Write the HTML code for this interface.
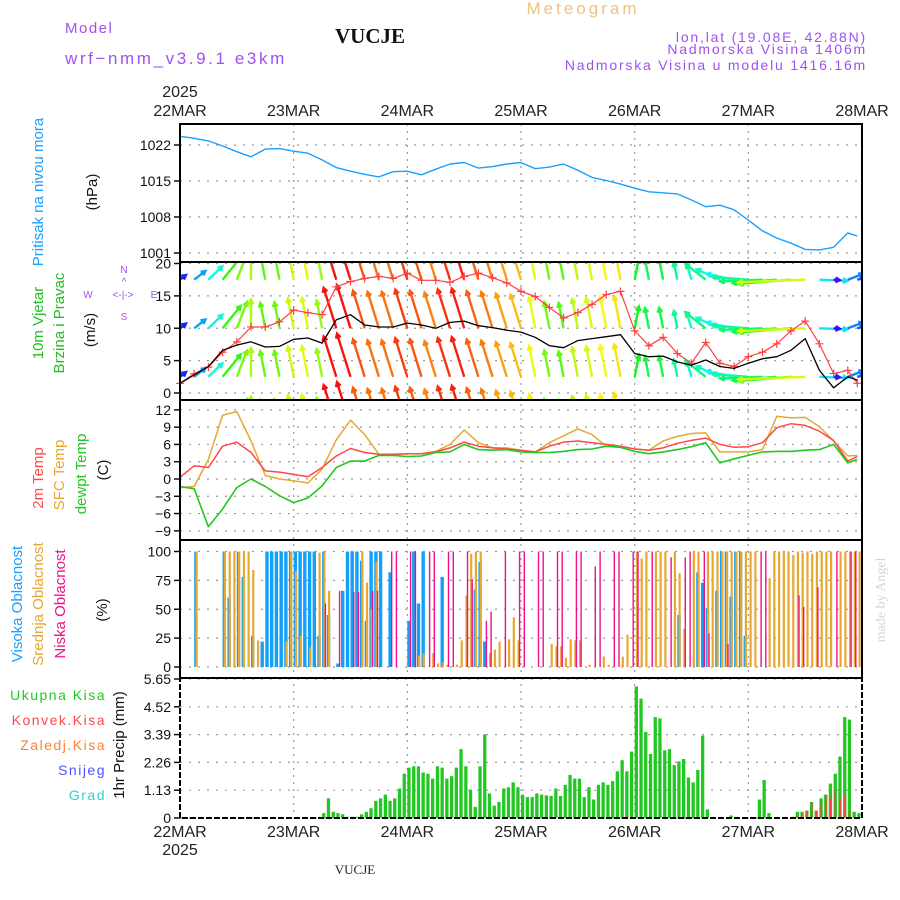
<!DOCTYPE html>
<html><head><meta charset="utf-8"><title>Meteogram VUCJE</title>
<style>
html,body{margin:0;padding:0;background:#fff;}
svg{display:block;font-family:"Liberation Sans",sans-serif;}
</style></head>
<body>
<svg id="chart" width="900" height="900" viewBox="0 0 900 900" xmlns="http://www.w3.org/2000/svg">
<defs>
<clipPath id="clipWind"><rect x="180" y="263" width="682" height="137"/></clipPath>
<clipPath id="clipAll"><rect x="180" y="124" width="682" height="694"/></clipPath>
</defs>
<text x="65" y="33" font-size="15" fill="#a050f0" letter-spacing="1.5">Model</text>
<text x="65" y="64" font-size="17" fill="#a050f0" letter-spacing="2.6">wrf−nmm_v3.9.1 e3km</text>
<text x="370" y="43" font-size="21" font-weight="bold" font-family="Liberation Serif, serif" text-anchor="middle" fill="#111">VUCJE</text>
<text x="583" y="14" font-size="17" fill="#f0c080" text-anchor="middle" letter-spacing="3">Meteogram</text>
<text x="867" y="42" font-size="14" fill="#a050f0" text-anchor="end" letter-spacing="1.8">lon,lat (19.08E, 42.88N)</text>
<text x="867" y="54" font-size="14" fill="#a050f0" text-anchor="end" letter-spacing="1.8">Nadmorska Visina 1406m</text>
<text x="867" y="70" font-size="14" fill="#a050f0" text-anchor="end" letter-spacing="1.8">Nadmorska Visina u modelu 1416.16m</text>
<text x="180" y="97" font-size="16" fill="#222" text-anchor="middle">2025</text>
<text x="180" y="855" font-size="16" fill="#222" text-anchor="middle">2025</text>
<text x="355" y="874" font-size="13" font-family="Liberation Serif, serif" fill="#222" text-anchor="middle">VUCJE</text>
<text transform="translate(885,600) rotate(-90)" font-size="14" font-family="Liberation Serif, serif" fill="#d0d8d0" text-anchor="middle">made by Angel</text>

<text transform="translate(43,192) rotate(-90)" font-size="15" fill="#1aa0ff" text-anchor="middle">Pritisak na nivou mora</text>
<text transform="translate(97,192) rotate(-90)" font-size="15" fill="#111" text-anchor="middle">(hPa)</text>
<text transform="translate(43,323) rotate(-90)" font-size="15" fill="#20c020" text-anchor="middle">10m Vjetar</text>
<text transform="translate(64,323) rotate(-90)" font-size="15" fill="#20c020" text-anchor="middle">Brzina i Pravac</text>
<text transform="translate(95,330) rotate(-90)" font-size="15" fill="#111" text-anchor="middle">(m/s)</text>
<g fill="#a050f0" font-size="10" text-anchor="middle">
<text x="88" y="298">W</text><text x="123" y="298">&lt;-|-&gt;</text><text x="154" y="298">E</text>
<text x="124" y="273">N</text><text x="124" y="285">^</text><text x="124" y="320">S</text>
</g>
<text transform="translate(43,478) rotate(-90)" font-size="15" fill="#ff4848" text-anchor="middle">2m Temp</text>
<text transform="translate(64,475) rotate(-90)" font-size="15" fill="#e8a830" text-anchor="middle">SFC Temp</text>
<text transform="translate(86,474) rotate(-90)" font-size="15" fill="#20c820" text-anchor="middle">dewpt Temp</text>
<text transform="translate(108,470) rotate(-90)" font-size="15" fill="#111" text-anchor="middle">(C)</text>
<text transform="translate(22,604) rotate(-90)" font-size="15" fill="#1aa0ff" text-anchor="middle">Visoka Oblacnost</text>
<text transform="translate(43,604) rotate(-90)" font-size="15" fill="#e8a830" text-anchor="middle">Srednja Oblacnost</text>
<text transform="translate(65,604) rotate(-90)" font-size="15" fill="#f0108a" text-anchor="middle">Niska Oblacnost</text>
<text transform="translate(107,610) rotate(-90)" font-size="15" fill="#111" text-anchor="middle">(%)</text>
<g font-size="14" text-anchor="end" letter-spacing="1.5">
<text x="106" y="700" fill="#20c820">Ukupna Kisa</text>
<text x="106" y="725" fill="#ff4848">Konvek.Kisa</text>
<text x="106" y="750" fill="#ff8030">Zaledj.Kisa</text>
<text x="106" y="775" fill="#5050ff">Snijeg</text>
<text x="106" y="800" fill="#30d0d0">Grad</text>
</g>
<text transform="translate(124,745) rotate(-90)" font-size="15" fill="#111" text-anchor="middle">1hr Precip (mm)</text>

<g id="grid"></g>
<g id="marks"></g>
<g id="frames"></g>
<g id="ticks"></g>
</svg>
<script>
const dayLabels = ["22MAR","23MAR","24MAR","25MAR","26MAR","27MAR","28MAR"];
const hours3 = [0,3,6,9,12,15,18,21,24,27,30,33,36,39,42,45,48,51,54,57,60,63,66,69,72,75,78,81,84,87,90,93,96,99,102,105,108,111,114,117,120,123,126,129,132,135,138,141,143];
const pressure = [1023.7,1023.3,1022.8,1021.8,1020.7,1019.7,1021.2,1021.3,1020.8,1020.4,1019.1,1017.6,1016.9,1016.3,1015.8,1016.8,1016.9,1016.2,1017.3,1018.3,1018.6,1017.5,1017.8,1018.3,1018.6,1017.4,1017.7,1018.3,1017.1,1015.7,1015.1,1014.4,1013.6,1012.9,1012.7,1012.5,1011.3,1010.0,1010.3,1009.4,1007.4,1005.3,1003.9,1002.9,1001.7,1001.6,1002.1,1004.9,1004.3];
const windSpeed = [1.5,2.8,4.1,6.6,7.4,7.9,7.1,7.2,8.3,8.5,7.7,11.3,12.1,10.5,10.2,10.2,10.8,10.5,10.0,10.9,11.1,10.4,10.1,9.7,9.4,8.6,7.3,7.0,8.1,8.4,8.7,9.0,6.1,5.6,5.7,4.8,4.3,5.1,4.1,3.8,4.6,5.3,5.6,6.6,8.4,3.5,0.8,2.5,2.0];
const windGust = [1.5,3.0,4.0,6.3,7.9,10.2,10.2,11.0,12.8,12.4,12.1,16.4,17.2,17.7,18.0,17.7,18.5,17.4,17.4,17.1,18.0,18.5,17.8,17.0,15.7,14.9,13.2,11.6,12.4,13.7,15.2,15.7,9.6,7.3,8.6,6.1,4.6,7.8,4.6,4.1,5.6,6.3,7.6,9.6,11.1,7.6,3.0,3.5,1.5];
const windDir = [30,30,25,20,10,0,-5,-5,-5,-5,-5,-8,-8,-8,-8,-8,-8,-8,-8,-8,-8,-8,-8,-8,-8,-5,-5,-5,-5,-5,-5,-5,5,-5,-5,-5,-8,-30,-45,-65,-80,-95,-100,-100,-95,95,100,50,60];
const temp2m = [0.3,2.3,2.0,5.7,6.4,4.6,1.4,1.2,0.8,0.4,2.0,4.0,5.3,4.6,4.3,4.3,4.4,4.4,4.7,5.4,6.4,5.7,5.4,5.2,5.0,4.7,5.7,6.4,6.6,6.3,6.0,5.7,5.2,5.0,5.4,6.2,6.7,7.1,6.0,5.5,5.6,6.3,8.9,9.6,9.3,8.3,6.7,3.1,3.9];
const tempSfc = [-1.5,-1.3,3.4,11.1,11.7,6.6,0.6,0.0,-0.3,-0.7,1.7,6.8,10.2,7.7,4.3,4.3,4.4,4.4,4.8,6.0,8.5,6.3,5.4,5.4,5.0,4.7,6.3,7.5,8.7,7.7,5.7,5.7,5.2,5.0,6.6,7.4,7.9,8.0,4.7,4.7,4.7,5.1,10.9,10.6,10.7,9.1,6.6,4.0,4.1];
const tempDew = [-1.3,-1.7,-8.3,-5.2,-1.5,0.0,-1.3,-2.9,-4.1,-3.3,-1.2,2.0,3.1,3.1,4.1,4.1,3.9,4.0,4.6,4.7,6.0,5.1,5.0,5.1,4.7,4.6,4.6,4.8,5.1,5.2,5.7,5.5,4.8,4.4,4.7,5.1,5.6,6.3,2.8,3.5,4.1,4.7,4.8,4.8,5.0,5.1,6.0,2.8,3.4];
const cloudHighHours = [3,9,10,12,13,15,17,18,19,20,21,22,23,24,25,26,27,28,29,30,31,33,34,35,36,37,38,39,40,41,42,44,48,49,50,51,55,62,63,64,105,109,110,111,113,114,115,116,117,118,119];
const cloudHigh = [100,100,60,100,78,27,22,100,100,100,100,100,100,100,100,100,100,100,27,100,45,3,66,100,100,100,92,40,100,100,100,82,40,100,55,100,78,67,91,22,45,82,73,51,66,100,100,61,100,100,27];
const cloudMidHours = [3,9,10,11,12,13,14,15,16,22,23,24,25,27,29,30,31,38,39,40,41,50,51,53,54,55,56,58,59,60,61,62,63,65,66,67,69,70,71,78,79,80,81,82,83,84,86,89,90,93,94,96,97,98,100,101,102,104,105,106,108,109,111,112,113,114,115,116,117,118,119,120,121,124,125,126,127,128,129,130,131,132,133,134,135,136,137,139,140,141,142,143];
const cloudMid = [100,100,100,100,100,100,100,84,23,22,100,83,27,17,99,100,66,100,73,50,91,10,12,12,3,4,2,2,23,62,98,100,100,12,15,22,24,43,23,20,18,18,8,24,23,23,2,9,2,9,28,100,94,100,100,100,100,100,81,33,100,100,100,100,100,100,100,100,100,100,100,100,100,77,100,100,100,100,97,100,99,100,98,100,100,100,100,100,100,100,100,100];
const cloudLowHours = [30,33,36,37,40,41,44,45,48,49,52,53,56,57,60,61,64,65,68,71,72,75,76,79,80,83,84,87,88,91,92,95,96,99,103,106,107,110,111,115,122,123,130,131,134,138,141,142];
const cloudLow = [55,66,65,65,66,66,100,100,100,100,100,100,100,100,100,76,40,48,100,100,100,100,100,100,100,100,100,87,100,100,100,100,100,100,95,95,100,100,29,20,100,100,62,52,69,100,100,100];
const precipHours = [30,31,32,33,34,35,36,37,38,39,40,41,42,43,44,45,46,47,48,49,50,51,52,53,54,55,56,57,58,59,60,61,62,63,64,65,66,67,68,69,70,71,72,73,74,75,76,77,78,79,80,81,82,83,84,85,86,87,88,89,90,91,92,93,94,95,96,97,98,99,100,101,102,103,104,105,106,107,108,109,110,111,116,117,122,123,124,129,130,131,132,133,134,135,136,137,138,139,140,141,142,143];
const precipTotal = [0.2,0.8,0.25,0.2,0.15,0.05,0.05,0.05,0.15,0.25,0.4,0.7,0.8,0.95,0.7,0.8,1.2,1.8,2.05,2.1,2.1,1.85,1.8,1.6,2.1,2.05,1.6,1.7,2.05,2.8,2.1,1.15,0.45,2.1,3.4,1.0,0.5,0.65,1.2,1.25,1.45,1.25,0.95,0.85,0.85,1.0,0.95,0.92,0.9,1.2,0.9,1.35,1.75,1.6,1.6,0.85,1.25,0.75,1.35,1.45,1.35,1.5,1.9,2.35,1.9,2.7,5.35,4.85,3.5,2.6,4.1,4.05,2.75,2.8,2.15,2.3,2.4,1.65,1.45,1.95,3.35,0.35,0.1,0.05,0.75,1.55,0.2,0.05,0.25,0.25,0.3,0.65,0.3,0.8,0.95,1.4,1.8,2.5,4.1,4.0,0.25,0.2];
const convHours = [94,95,129,130,131,132,133,134,135,136,137,138,139,140,141];
const precipConv = [0.1,0.1,0.05,0.1,0.15,0.3,0.65,0.3,0.6,0.9,0.8,1.2,0.8,0.95,0.3];
const pressureTicks = [1022,1015,1008,1001];
const windTicks = [0,5,10,15,20];
const tempTicks = [12,9,6,3,0,-3,-6,-9];
const cloudTicks = [0,25,50,75,100];
const precipTicks = [0,1.13,2.26,3.39,4.52,5.65];

const X0 = 180, X1 = 862;
function X(h){ return X0 + h*(X1-X0)/144; }
function yP(p){ return 145 + (1022-p)*108/21; }
function yW(v){ return 393 - v*6.475; }
function yT(t){ return 479 - t*5.76; }
function yC(c){ return 667 - c*1.155; }
function yR(r){ return 818 - r*139/5.65; }

const NS = "http://www.w3.org/2000/svg";
function mk(parent, tag, attrs){
  const e = document.createElementNS(NS, tag);
  for (const k in attrs) e.setAttribute(k, attrs[k]);
  parent.appendChild(e);
  return e;
}
const grid = document.getElementById('grid');
const marks = document.getElementById('marks');
const frames = document.getElementById('frames');
const ticks = document.getElementById('ticks');

const panels = [[124,262],[262,400],[400,540],[540,678],[678,818]];

dayLabels.forEach((d,i)=>{
  const x = X(i*24);
  if (i>0 && i<6){
    const g = mk(grid,'line',{x1:x,x2:x,y1:124,y2:818,stroke:'#999','stroke-width':1.2,'stroke-dasharray':'2 5'});
    
    
  }
  const t1 = mk(ticks,'text',{x:x,y:116,'font-size':16,'text-anchor':'middle',fill:'#222'});
  t1.textContent = d;
  
  
  const t2 = mk(ticks,'text',{x:x,y:837,'font-size':16,'text-anchor':'middle',fill:'#222'});
  t2.textContent = d;
  
  
});

function hgrid(vals, fy, fmt, name){
  vals.forEach(v=>{
    const y = fy(v);
    const g = mk(grid,'line',{x1:X0,x2:X1,y1:y,y2:y,stroke:'#999','stroke-width':1.2,'stroke-dasharray':'2 7'});
    
    
    const tk = mk(ticks,'line',{x1:X0-6,x2:X0,y1:y,y2:y,stroke:'#111','stroke-width':1.5});
    
    
    const t = mk(ticks,'text',{x:X0-9,y:y+5,'font-size':14,'text-anchor':'end',fill:'#111'});
    t.textContent = fmt(v);
    
    
  });
}
hgrid(pressureTicks, yP, v=>String(v), 'pressure');
hgrid(windTicks, yW, v=>String(v), 'wind');
hgrid(tempTicks, yT, v=>String(v).replace('-','−'), 'temp');
hgrid(cloudTicks, yC, v=>String(v), 'cloud');
hgrid(precipTicks, yR, v=>v===0?'0':v.toFixed(2), 'precip');

function poly(vals, fy, color, width, clip, name){
  const pts = hours3.map((h,i)=>X(h).toFixed(1)+','+fy(vals[i]).toFixed(1)).join(' ');
  const p = mk(marks,'polyline',{points:pts,fill:'none',stroke:color,'stroke-width':width,'stroke-linejoin':'round','clip-path':clip});
  
  
  return p;
}

poly(pressure, yP, '#1aa0ff', 1.4, 'url(#clipAll)', 'pressure-line');

const rowBases = [17.5, 10, 2.5, -5];
const windG = mk(marks,'g',{'clip-path':'url(#clipWind)'});


hours3.forEach((h,i)=>{
  const sp = windSpeed[i];
  const a = windDir[i]*Math.PI/180;
  const hue = Math.max(0, Math.min(285, 270 - 24*sp));
  const col = 'hsl('+hue+',95%,52%)';
  const dx = Math.sin(a)*sp*8;
  const dy = -Math.cos(a)*sp*3.6;
  rowBases.forEach(b=>{
    const x0 = X(h), y0 = yW(b);
    const x1 = x0+dx, y1 = y0+dy;
    const ang = Math.atan2(y1-y0, x1-x0);
    const hl = 5;
    const d = 'M'+x0.toFixed(1)+' '+y0.toFixed(1)+' L'+x1.toFixed(1)+' '+y1.toFixed(1)+
      ' M'+(x1-hl*Math.cos(ang-0.5)).toFixed(1)+' '+(y1-hl*Math.sin(ang-0.5)).toFixed(1)+' L'+x1.toFixed(1)+' '+y1.toFixed(1)+
      ' L'+(x1-hl*Math.cos(ang+0.5)).toFixed(1)+' '+(y1-hl*Math.sin(ang+0.5)).toFixed(1);
    const p = mk(windG,'path',{d:d,fill:'none',stroke:col,'stroke-width':2.4});
    
    
  });
});
poly(windGust, yW, '#ff4040', 1.2, 'url(#clipWind)', 'wind-gust-line');
hours3.forEach((h,i)=>{
  const x = X(h), y = yW(windGust[i]);
  const m = mk(marks,'path',{d:'M'+(x-4)+' '+y+' H'+(x+4)+' M'+x+' '+(y-4)+' V'+(y+4),stroke:'#ff4040','stroke-width':1.2});
  
  
});
poly(windSpeed, yW, '#000', 1.3, 'url(#clipWind)', 'wind-speed-line');

poly(tempSfc, yT, '#e8a830', 1.5, 'url(#clipAll)', 'sfc-temp-line');
poly(temp2m, yT, '#ff4848', 1.5, 'url(#clipAll)', 'temp-2m-line');
poly(tempDew, yT, '#20c820', 1.6, 'url(#clipAll)', 'dewpoint-line');

function cloudBars(hrs, vals, color, off, w, name){
  hrs.forEach((h,i)=>{
    const y = yC(vals[i]);
    const r = mk(marks,'rect',{x:(X(h)+off).toFixed(1),y:y.toFixed(1),width:w,height:(667-y).toFixed(1),fill:color});
    
    
  });
}
cloudBars(cloudHighHours, cloudHigh, '#12a0f8', 0, 3.4, 'cloud-high-bar');
cloudBars(cloudMidHours, cloudMid, '#e8a830', 1.2, 2.2, 'cloud-mid-bar');
cloudBars(cloudLowHours, cloudLow, '#f0108a', 2.6, 1.4, 'cloud-low-bar');

precipHours.forEach((h,i)=>{
  const y = yR(precipTotal[i]);
  const r = mk(marks,'rect',{x:X(h).toFixed(1),y:y.toFixed(1),width:3.3,height:(818-y).toFixed(1),fill:'#22c822'});
  
  
});
convHours.forEach((h,i)=>{
  const y = yR(precipConv[i]);
  const r = mk(marks,'rect',{x:(X(h)+1).toFixed(1),y:y.toFixed(1),width:1.5,height:(818-y).toFixed(1),fill:'#ff4040'});
  
  
});

panels.forEach((p,i)=>{
  const r = mk(frames,'rect',{x:X0,y:p[0],width:X1-X0,height:p[1]-p[0],fill:'none',stroke:'#000','stroke-width':2,'stroke-dasharray': i===4 ? '6 2' : 'none'});
  
  
});
</script>
</body></html>
